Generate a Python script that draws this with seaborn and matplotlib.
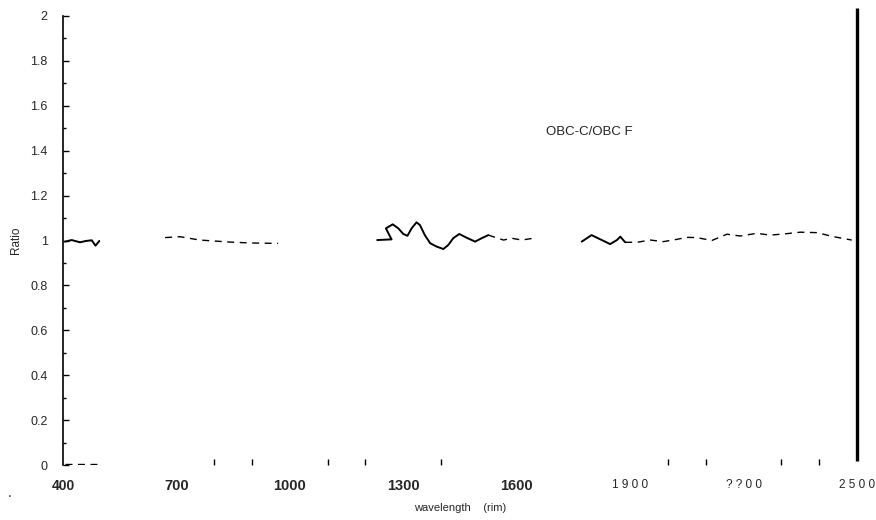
import numpy as np
import pandas as pd
import matplotlib
matplotlib.use("Agg")
import matplotlib.pyplot as plt
import seaborn as sns

# ---- data (wavelength nm, ratio) ----
seg1_x = [405, 423, 445, 461, 476, 486, 496]
seg1_y = [0.995, 1.002, 0.992, 0.998, 1.001, 0.977, 0.998]

seg2_x = [670, 709, 762, 842, 895, 969]
seg2_y = [1.013, 1.017, 1.002, 0.993, 0.989, 0.987]

seg3_x = [1231, 1269, 1254, 1272, 1287, 1300, 1311, 1322, 1335, 1344, 1357,
          1371, 1388, 1406, 1419, 1432, 1448, 1468, 1490, 1507, 1525]
seg3_y = [1.002, 1.005, 1.054, 1.072, 1.054, 1.029, 1.021, 1.054, 1.081, 1.069,
          1.024, 0.988, 0.973, 0.962, 0.980, 1.010, 1.029, 1.012, 0.995, 1.010,
          1.024]

seg4_x = [1525, 1543, 1565, 1587, 1613, 1644]
seg4_y = [1.024, 1.014, 1.002, 1.010, 1.002, 1.010]

seg5_x = [1772, 1798, 1825, 1847, 1865, 1874, 1887]
seg5_y = [0.995, 1.024, 1.002, 0.984, 1.002, 1.017, 0.992]

seg6_x = [1887, 1918, 1953, 1988, 2023, 2050, 2076, 2116, 2156, 2191, 2235,
          2270, 2306, 2350, 2394, 2438, 2486]
seg6_y = [0.992, 0.992, 1.002, 0.995, 1.005, 1.014, 1.013, 1.000, 1.028, 1.020,
          1.032, 1.024, 1.029, 1.037, 1.035, 1.017, 1.002]

base_x = [405, 490]
base_y = [0.006, 0.006]

x_major = [400, 700, 1000, 1300, 1600, 1900, 2200, 2500]
x_labels = ["400", "700", "1000", "1300", "1600", "1 9 0 0", "? ? 0 0", "2 5 0 0"]
x_minor = [800, 900, 1100, 1200, 1400, 2000, 2100, 2300, 2400]
y_ticks = [0, 0.2, 0.4, 0.6, 0.8, 1, 1.2, 1.4, 1.6, 1.8, 2]
y_labels = ["0", "0.2", "0.4", "0.6", "0.8", "1", "1.2", "1.4", "1.6", "1.8", "2"]

segments = [
    ("s1", "solid", seg1_x, seg1_y),
    ("s2", "dashed", seg2_x, seg2_y),
    ("s3", "solid", seg3_x, seg3_y),
    ("s4", "dashed", seg4_x, seg4_y),
    ("s5", "solid", seg5_x, seg5_y),
    ("s6", "dashed", seg6_x, seg6_y),
    ("s7", "dashed", base_x, base_y),
]
rows = []
for name, style, xs, ys in segments:
    for i, (a, b) in enumerate(zip(xs, ys)):
        rows.append({"seg": name, "style": style, "order": i, "wl": a, "ratio": b})
df = pd.DataFrame(rows)

sns.set_theme(style="white")
plt.rcParams["font.family"] = ["Liberation Sans", "DejaVu Sans"]

fig = plt.figure(figsize=(8.76, 5.2), dpi=100)
ax = fig.add_axes([63 / 876, 55 / 520, (857 - 63) / 876, (465 - 16) / 520])

for style, lw in [("solid", 1.4), ("dashed", 1.0)]:
    sub = df[df["style"] == style]
    sns.lineplot(data=sub, x="wl", y="ratio", units="seg", estimator=None,
                 sort=False, color="black", linewidth=lw,
                 linestyle="-" if style == "solid" else (0, (5, 4)),
                 solid_joinstyle="round", ax=ax, legend=False)

ax.set_xlim(400, 2500)
ax.set_ylim(0, 2)

for s in ["top", "right", "bottom"]:
    ax.spines[s].set_visible(False)
ax.spines["left"].set_color("black")
ax.spines["left"].set_linewidth(1.2)

# right vertical bar
ax.plot([2500, 2500], [0.02, 2.035], color="black", linewidth=2.4,
        clip_on=False, solid_capstyle="butt")

ax.set_yticks(y_ticks)
ax.set_yticklabels(y_labels, fontsize=9)
ax.set_yticks(np.arange(0.1, 2.0, 0.2), minor=True)
ax.tick_params(axis="y", which="major", direction="in", length=4, width=1,
               color="black", left=True, pad=11)
ax.tick_params(axis="y", which="minor", direction="in", length=2, width=1,
               color="black", left=True)

ax.set_xticks(x_major)
ax.set_xticklabels(x_labels)
for lab, w, fs in zip(ax.get_xticklabels(),
                      ["bold", "bold", "bold", "bold", "bold",
                       "normal", "normal", "normal"],
                      [10, 10.5, 10.5, 10.5, 10.5, 8.5, 8.5, 8.5]):
    lab.set_fontweight(w)
    lab.set_fontsize(fs)
ax.set_xticks(x_minor, minor=True)
ax.tick_params(axis="x", which="major", length=0, pad=10)
ax.tick_params(axis="x", which="minor", direction="in", length=4, width=1,
               color="black", bottom=True)

ax.set_xlabel("wavelength    (rim)", fontsize=8, labelpad=7)
ax.set_ylabel("Ratio", fontsize=8.5, labelpad=6)

ax.text(1677, 1.47, "OBC-C/OBC F", fontsize=9.5, color="#222222")
fig.text(8 / 876, 1 - 497 / 520, ".", fontsize=10)

fig.savefig("out.png", dpi=100, facecolor="white")
